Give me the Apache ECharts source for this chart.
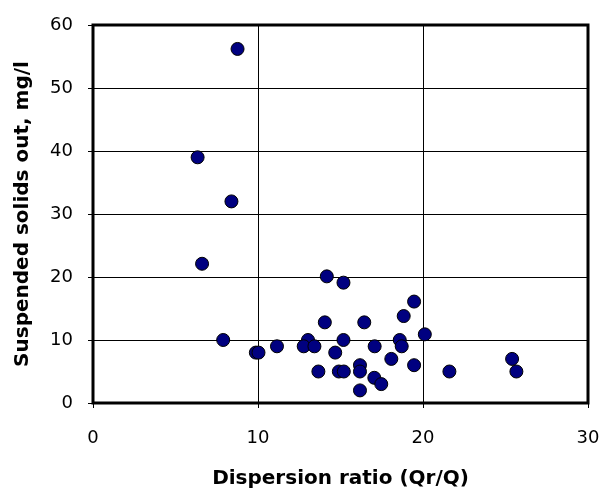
<!DOCTYPE html>
<html>
<head>
<meta charset="utf-8">
<script src="https://cdn.jsdelivr.net/npm/echarts@6/dist/echarts.min.js"></script>
<style>
html,body{margin:0;padding:0;background:#fff;}
#chart{width:610px;height:489px;}
</style>
</head>
<body>
<div id="chart"></div>
<script>
// Dispersion ratio (Qr/Q)
const dispersionRatio = [8.76, 6.34, 8.39, 6.61, 7.89, 9.87, 10.03, 11.15, 13.03, 12.77, 13.42, 14.17, 15.18, 14.05, 16.44, 15.18, 14.68, 13.66, 14.9, 15.2, 16.18, 16.18, 16.18, 17.07, 17.05, 17.47, 18.08, 18.59, 18.71, 18.83, 19.46, 19.46, 20.11, 21.6, 25.4, 25.66];
// Suspended solids out, mg/l
const solidsOut = [56.2, 39.0, 32.0, 22.1, 10.0, 8.0, 8.0, 9.0, 10.0, 9.0, 9.0, 20.1, 19.1, 12.8, 12.8, 10.0, 8.0, 5.0, 5.0, 5.0, 6.0, 5.0, 2.0, 9.0, 4.0, 3.0, 7.0, 10.0, 9.0, 13.8, 16.1, 6.0, 10.9, 5.0, 7.0, 5.0];
const xTicks = [0, 10, 20, 30];
const yTicks = [0, 10, 20, 30, 40, 50, 60];

const points = dispersionRatio.map((x, i) => [x, solidsOut[i]]);
const font = '"DejaVu Sans", "Liberation Sans", Arial, sans-serif';

const chart = echarts.init(document.getElementById('chart'), null, {renderer: 'canvas'});
chart.setOption({
  animation: false,
  backgroundColor: '#ffffff',
  grid: {
    left: 93, right: 22, top: 25, bottom: 86,
    outerBoundsMode: 'none',
    containLabel: false,
    show: true, borderColor: '#000', borderWidth: 3, backgroundColor: 'transparent'
  },
  xAxis: {
    type: 'value', min: xTicks[0], max: xTicks[xTicks.length - 1], interval: 10,
    name: 'Dispersion ratio (Qr/Q)', nameLocation: 'middle', nameGap: 66,
    nameTextStyle: {fontFamily: font, fontSize: 20, fontWeight: 'bold', color: '#000'},
    axisLine: {show: true, onZero: false, lineStyle: {color: '#000', width: 1}},
    axisTick: {show: true, inside: false, length: 5, lineStyle: {color: '#000'}},
    axisLabel: {fontFamily: font, fontSize: 18, color: '#000', margin: 26},
    splitLine: {show: true, lineStyle: {color: '#000', width: 1}}
  },
  yAxis: {
    type: 'value', min: yTicks[0], max: yTicks[yTicks.length - 1], interval: 10,
    name: 'Suspended solids out, mg/l', nameLocation: 'middle', nameGap: 60,
    nameTextStyle: {fontFamily: font, fontSize: 20, fontWeight: 'bold', color: '#000'},
    axisLine: {show: true, onZero: false, lineStyle: {color: '#000', width: 1}},
    axisTick: {show: true, inside: false, length: 5, lineStyle: {color: '#000'}},
    axisLabel: {fontFamily: font, fontSize: 18, color: '#000', margin: 20},
    splitLine: {show: true, lineStyle: {color: '#000', width: 1}}
  },
  series: [{
    type: 'scatter',
    data: points,
    symbol: 'circle',
    symbolSize: 13,
    itemStyle: {color: '#000080', borderColor: '#000', borderWidth: 1, opacity: 1}
  }]
});
</script>
</body>
</html>
